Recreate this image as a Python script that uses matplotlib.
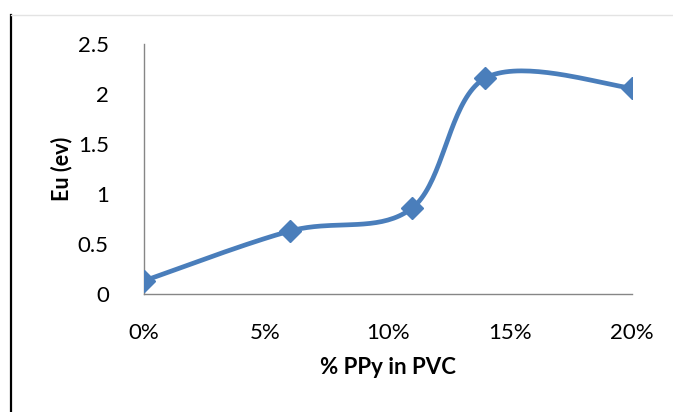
import numpy as np
import matplotlib
matplotlib.use("Agg")
import matplotlib.pyplot as plt
from matplotlib.lines import Line2D
from matplotlib.ticker import FuncFormatter

# data
ppy_pct = [0, 6, 11, 14, 20]
eu_ev = [0.13, 0.63, 0.86, 2.16, 2.06]
x_ticks = [0, 5, 10, 15, 20]
y_ticks = [0, 0.5, 1, 1.5, 2, 2.5]

BLUE = "#4A7EBB"

# excel style smoothed line (catmull-rom as bezier segments)
def smooth(xs, ys, n=40):
    p = np.column_stack([xs, ys]).astype(float)
    out = []
    for i in range(len(p) - 1):
        p0 = p[i - 1] if i > 0 else p[i]
        p3 = p[i + 2] if i + 2 < len(p) else p[i + 1]
        c1 = p[i] + (p[i + 1] - p0) / 6
        c2 = p[i + 1] - (p3 - p[i]) / 6
        t = np.linspace(0, 1, n)[:, None]
        seg = ((1 - t) ** 3) * p[i] + 3 * ((1 - t) ** 2) * t * c1 + 3 * (1 - t) * t ** 2 * c2 + t ** 3 * p[i + 1]
        out.append(seg if i == 0 else seg[1:])
    s = np.vstack(out)
    return s[:, 0], s[:, 1]

plt.rcParams['font.family'] = ['Lato', 'DejaVu Sans']

fig = plt.figure(figsize=(6.73, 4.12), dpi=100)
ax = fig.add_axes([143.5 / 673, 1 - 294 / 412, (632 - 143.5) / 673, 250 / 412])

sx, sy = smooth(ppy_pct, eu_ev)
ax.plot(sx, sy, color=BLUE, lw=3.4, solid_capstyle="round", zorder=3)
ax.plot(ppy_pct, eu_ev, ls="none", marker="D", ms=11.5, color=BLUE, zorder=4)

ax.set_xlim(0, 20)
ax.set_ylim(0, 2.5)
ax.set_xticks(x_ticks)
ax.set_yticks(y_ticks)
ax.xaxis.set_major_formatter(FuncFormatter(lambda v, p: f"{v:.0f}%"))
ax.yaxis.set_major_formatter(FuncFormatter(lambda v, p: f"{v:g}"))
ax.tick_params(length=0, labelsize=16, colors="black")
ax.tick_params(axis="x", pad=21)
ax.tick_params(axis="y", pad=25)

for side in ["top", "right"]:
    ax.spines[side].set_visible(False)
for side in ["left", "bottom"]:
    ax.spines[side].set_color("#868686")
    ax.spines[side].set_linewidth(1.0)

ax.set_xlabel("% PPy in PVC", fontsize=16, fontweight="bold", labelpad=10)
ax.set_ylabel("Eu (ev)", fontsize=15.5, fontweight="bold", va="center")
ax.yaxis.set_label_coords(-0.168, 0.5)
ax.patch.set_visible(False)

# page borders seen in the screenshot
fig.add_artist(Line2D([11.5 / 673, 11.5 / 673], [0, 1 - 15 / 412], color="black", lw=1.6))
fig.add_artist(Line2D([11.5 / 673, 1], [1 - 15 / 412, 1 - 15 / 412], color="#e3e3e3", lw=1.0))

fig.savefig("out.png", dpi=100)
